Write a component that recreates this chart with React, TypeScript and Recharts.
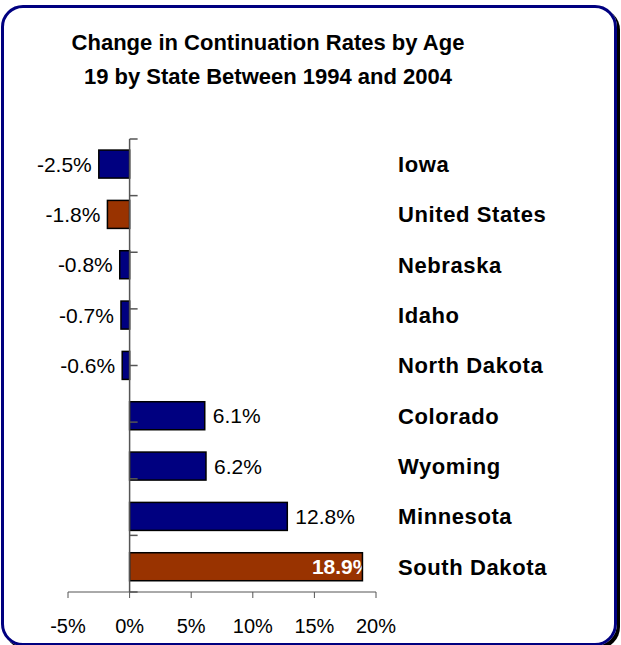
import React from 'react';
import { BarChart, Bar, XAxis, YAxis, ReferenceLine } from 'recharts';

const states = ['Iowa', 'United States', 'Nebraska', 'Idaho', 'North Dakota', 'Colorado', 'Wyoming', 'Minnesota', 'South Dakota'];
const changes = [-2.5, -1.8, -0.8, -0.7, -0.6, 6.1, 6.2, 12.8, 18.9];
const highlighted = ['United States', 'South Dakota'];
const xTicks = [-5, 0, 5, 10, 15, 20];

const data = states.map((state, i) => ({ state, change: changes[i] }));
// band boundaries (0 = top of first category, n = bottom of last)
const boundaries = [...states.map((_, i) => i), states.length];
const maxChange = Math.max(...changes);

const FONT = '"Liberation Sans", Arial, Helvetica, sans-serif';

const BarShape = (props: any) => {
  const { x, y, width, height, payload } = props;
  const left = Math.min(x, x + width);
  const w = Math.abs(width);
  const right = left + w;
  const v = payload.change;
  const fill = highlighted.includes(payload.state) ? '#993300' : '#000080';
  const label = `${v.toFixed(1)}%`;
  const cy = y + height / 2;
  const inside = v === maxChange;
  return (
    <g>
      <rect x={left} y={y} width={w} height={height} fill={fill} />
      {inside ? (
        <text x={right + 9} y={cy} dy="0.36em" textAnchor="end" fill="#fff" fontSize={21} fontWeight="bold">
          {label}
        </text>
      ) : (
        <text x={v < 0 ? left - 7 : right + 8} y={cy} dy="0.36em" textAnchor={v < 0 ? 'end' : 'start'} fill="#000" fontSize={21}>
          {label}
        </text>
      )}
      <rect x={left} y={y} width={w} height={height} fill="none" stroke="#000" strokeWidth={1.5} />
    </g>
  );
};

export default function App() {
  return (
    <div style={{ position: 'absolute', left: 0, top: 0, width: 621, height: 645, overflow: 'hidden', background: '#fff', fontFamily: FONT }}>
      {/* frame */}
      <div
        style={{
          position: 'absolute',
          left: 1,
          top: 5,
          width: 610,
          height: 635,
          border: '3px solid #000080',
          borderRadius: 22,
          boxShadow: '3px 3px 0 #000',
        }}
      />
      <BarChart
        width={621}
        height={645}
        data={data}
        layout="vertical"
        barCategoryGap="22%"
        margin={{ top: 139, right: 10, left: 68, bottom: 3 }}
        style={{ position: 'absolute', left: 0, top: 0 }}
      >
        <XAxis
          type="number"
          dataKey="change"
          domain={[-5, 20]}
          ticks={xTicks}
          interval={0}
          tickFormatter={(v: number) => `${v}%`}
          stroke="#555"
          tick={{ fill: '#000', fontSize: 20 }}
          tickSize={6}
          tickMargin={21}
          height={50}
        />
        <YAxis
          type="category"
          dataKey="state"
          orientation="right"
          width={235}
          axisLine={false}
          tickLine={false}
          tickSize={0}
          tickMargin={22}
          interval={0}
          tick={{ fill: '#000', fontSize: 22, fontWeight: 'bold', letterSpacing: 0.6 }}
        />
        <YAxis yAxisId="b" type="number" domain={[0, states.length]} reversed hide />
        <Bar dataKey="change" shape={<BarShape />} isAnimationActive={false} />
        <ReferenceLine x={0} stroke="#555" strokeWidth={1.5} />
        {boundaries.map((b) => (
          <ReferenceLine
            key={b}
            yAxisId="b"
            segment={[{ x: 0, y: b }, { x: 0.65, y: b }]}
            stroke="#555"
            strokeWidth={1.5}
          />
        ))}
      </BarChart>
      {/* title */}
      <div
        style={{
          position: 'absolute',
          left: 0,
          top: 26,
          width: 536,
          textAlign: 'center',
          fontSize: 22,
          fontWeight: 'bold',
          lineHeight: '34px',
          color: '#000',
        }}
      >
        Change in Continuation Rates by Age
        <br />
        19 by State Between 1994 and 2004
      </div>
    </div>
  );
}
